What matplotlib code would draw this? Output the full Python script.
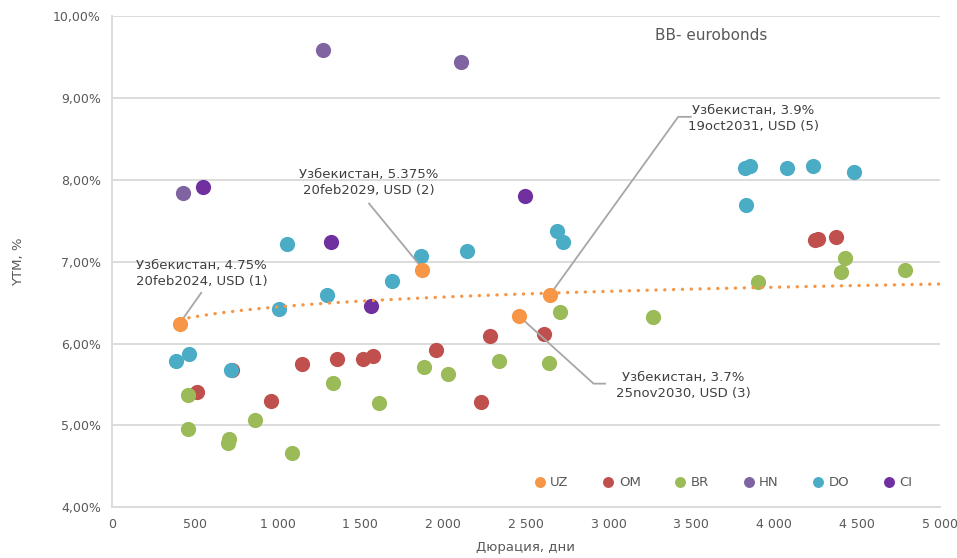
import numpy as np
import matplotlib.pyplot as plt
from matplotlib.ticker import FuncFormatter

# duration (days) / YTM (%) by issuer
uz_x = [412, 1870, 2456, 2643]
uz_y = [6.24, 6.90, 6.34, 6.59]

om_x = [512, 725, 960, 1145, 1361, 1516, 1578, 1960, 2281, 2229, 2611, 4245, 4262, 4372]
om_y = [5.41, 5.68, 5.30, 5.75, 5.81, 5.81, 5.85, 5.92, 6.09, 5.29, 6.12, 7.26, 7.28, 7.30]

br_x = [458, 458, 706, 699, 866, 1090, 1336, 1613, 1884, 2027, 2336, 2640, 2709, 3267,
        3902, 4426, 4404, 4789]
br_y = [5.37, 4.95, 4.83, 4.78, 5.06, 4.66, 5.52, 5.27, 5.71, 5.63, 5.79, 5.76, 6.39, 6.32,
        6.75, 7.04, 6.88, 6.90]

hn_x = [432, 1277, 2108]
hn_y = [7.84, 9.59, 9.44]

do_x = [388, 468, 719, 1006, 1058, 1301, 1693, 1867, 2145, 2687, 2727, 3822, 3852, 4075,
        4237, 4484, 3831]
do_y = [5.79, 5.87, 5.68, 6.42, 7.22, 6.59, 6.77, 7.07, 7.13, 7.38, 7.24, 8.15, 8.17, 8.15,
        8.17, 8.10, 7.69]

ci_x = [551, 1322, 1564, 2496]
ci_y = [7.91, 7.24, 6.46, 7.80]

labels = ['Узбекистан, 4.75%\n20feb2024, USD (1)',
          'Узбекистан, 5.375%\n20feb2029, USD (2)',
          'Узбекистан, 3.7%\n25nov2030, USD (3)',
          'Узбекистан, 3.9%\n19oct2031, USD (5)']

colors = {'UZ': '#F79646', 'OM': '#C0504D', 'BR': '#9BBB59',
          'HN': '#8064A2', 'DO': '#4BACC6', 'CI': '#7030A0'}

txt = '#595959'
line_grey = '#A6A6A6'

fig = plt.figure(figsize=(9.57, 5.58), dpi=100)
ax = fig.add_axes([0.117, 0.091, 0.865, 0.880])

ms = 120
ax.scatter(om_x, om_y, s=ms, color=colors['OM'], label='OM', zorder=3, linewidths=0)
ax.scatter(br_x, br_y, s=ms, color=colors['BR'], label='BR', zorder=3, linewidths=0)
ax.scatter(hn_x, hn_y, s=ms, color=colors['HN'], label='HN', zorder=3, linewidths=0)
ax.scatter(do_x, do_y, s=ms, color=colors['DO'], label='DO', zorder=3, linewidths=0)
ax.scatter(ci_x, ci_y, s=ms, color=colors['CI'], label='CI', zorder=3, linewidths=0)
ax.scatter(uz_x, uz_y, s=ms, color=colors['UZ'], label='UZ', zorder=5, linewidths=0)

# logarithmic trend on UZ bonds
b, a = np.polyfit(np.log(uz_x), uz_y, 1)
tx = np.linspace(min(uz_x), 5000, 300)
ax.plot(tx, a + b * np.log(tx), color=colors['UZ'], lw=2.4,
        linestyle=(0, (0.05, 2.6)), dash_capstyle='round', zorder=4)

# annotations for UZ bonds
ann_kw = dict(fontsize=9.5, color='#404040', ha='center', va='center', linespacing=1.25, zorder=6)
ax.text(540, 6.855, labels[0], **ann_kw)
ax.plot([539, 424], [6.62, 6.29], color=line_grey, lw=1.3, zorder=4)

ax.text(1553, 7.97, labels[1], **ann_kw)
ax.plot([1553, 1866], [7.71, 6.94], color=line_grey, lw=1.3, zorder=4)

ax.text(3450, 5.485, labels[2], **ann_kw)
ax.plot([uz_x[2], 2909, 2978], [uz_y[2], 5.51, 5.51], color=line_grey, lw=1.3, zorder=4)

ax.text(3872, 8.75, labels[3], **ann_kw)
ax.plot([uz_x[3], 3420, 3496], [uz_y[3], 8.77, 8.77], color=line_grey, lw=1.3, zorder=4)

ax.text(3620, 9.77, 'BB- eurobonds', fontsize=11, color=txt, ha='center', va='center')

ax.set_xlim(0, 5000)
ax.set_ylim(4, 10)
ax.set_xticks(np.arange(0, 5001, 500))
ax.set_yticks(np.arange(4, 10.01, 1))
ax.xaxis.set_major_formatter(FuncFormatter(lambda v, p: f'{int(v):,}'.replace(',', ' ')))
ax.yaxis.set_major_formatter(FuncFormatter(lambda v, p: f'{v:.2f}%'.replace('.', ',')))
ax.tick_params(length=0, labelsize=9, colors=txt, pad=8)
ax.grid(axis='y', color='#D9D9D9', lw=1.3)
ax.set_axisbelow(True)
for s in ['top', 'right']:
    ax.spines[s].set_visible(False)
for s in ['left', 'bottom']:
    ax.spines[s].set_color('#D9D9D9')
    ax.spines[s].set_linewidth(1.3)

ax.set_xlabel('Дюрация, дни', fontsize=9.5, color=txt, labelpad=7)
ax.set_ylabel('YTM, %', fontsize=9.5, color=txt, labelpad=20)

handles, lbls = ax.get_legend_handles_labels()
order = ['UZ', 'OM', 'BR', 'HN', 'DO', 'CI']
hmap = dict(zip(lbls, handles))
leg = ax.legend([hmap[k] for k in order], order, loc='center', bbox_to_anchor=(0.734, 0.051),
                ncol=6, frameon=False, handletextpad=-0.2, columnspacing=2.0,
                markerscale=0.72, fontsize=9.5, labelcolor=txt)

fig.savefig('out.png', dpi=100)
